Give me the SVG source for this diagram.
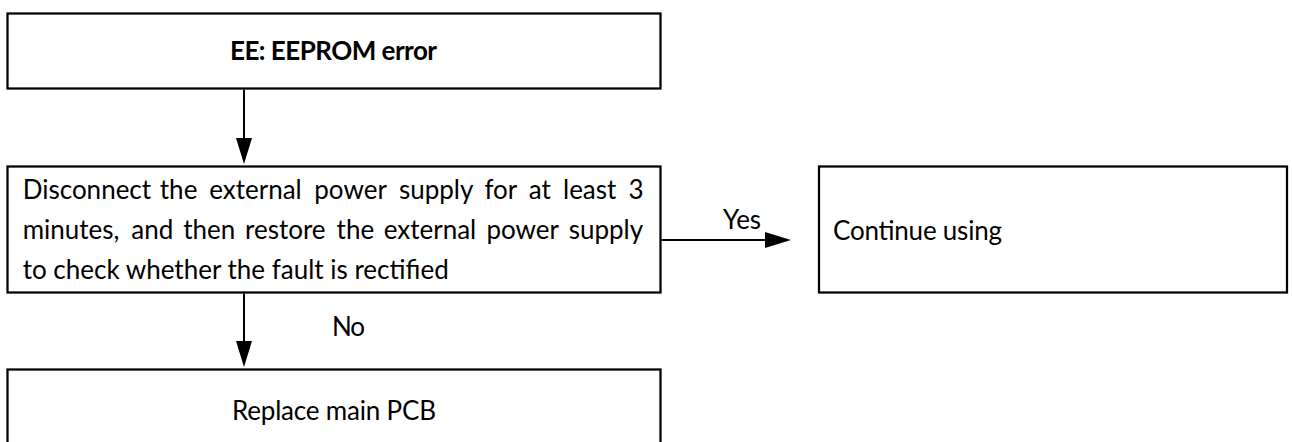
<svg xmlns="http://www.w3.org/2000/svg" width="1292" height="442" viewBox="0 0 1292 442">
  <style>
    .box { fill: #ffffff; stroke: #000000; stroke-width: 2.25; }
    .conn { fill: none; stroke: #000000; stroke-width: 2; }
    .txt { font-family: Lato, "Liberation Sans", sans-serif; font-size: 26px; fill: #000000; }
    .bold { font-weight: bold; }
  </style>
  <defs>
    <marker id="arrow" markerUnits="userSpaceOnUse" markerWidth="26" markerHeight="16" refX="16" refY="8" orient="auto" viewBox="0 0 26 16">
      <path d="M0,0 L26,8 L0,16 Z" fill="#000000"/>
    </marker>
  </defs>
  <rect x="0" y="0" width="1292" height="442" fill="#ffffff"/>

  <g id="connectors">
    <line class="conn" x1="244" y1="89.5" x2="244" y2="154" marker-end="url(#arrow)"/>
    <line class="conn" x1="661.5" y1="240" x2="781" y2="240" marker-end="url(#arrow)"/>
    <text class="txt" x="723" y="229" textLength="38">Yes</text>
    <line class="conn" x1="244" y1="293.5" x2="244" y2="357" marker-end="url(#arrow)"/>
    <text class="txt" x="332" y="336" textLength="33">No</text>
  </g>

  <g id="node-ee">
    <rect class="box" x="7.5" y="13.5" width="653" height="75"/>
    <text class="txt bold" x="230" y="60" textLength="207">EE: EEPROM error</text>
  </g>

  <g id="node-disconnect">
    <rect class="box" x="7.5" y="166.5" width="653" height="126"/>
    <text class="txt" y="199"><tspan x="22.7">Disconnect</tspan> <tspan x="159.8">the</tspan> <tspan x="209.2">external</tspan> <tspan x="314.3">power</tspan> <tspan x="398.9">supply</tspan> <tspan x="484.4">for</tspan> <tspan x="528.8">at</tspan> <tspan x="563">least</tspan> <tspan x="628.5">3</tspan></text>
    <text class="txt" y="239"><tspan x="22.7">minutes,</tspan> <tspan x="131.3">and</tspan> <tspan x="183.2">then</tspan> <tspan x="245">restore</tspan> <tspan x="336.6">the</tspan> <tspan x="383.7">external</tspan> <tspan x="486.4">power</tspan> <tspan x="568.7">supply</tspan></text>
    <text class="txt" x="22.7" y="279" textLength="426">to check whether the fault is rectified</text>
  </g>

  <g id="node-continue">
    <rect class="box" x="819" y="166.5" width="468" height="126"/>
    <text class="txt" x="833" y="240" textLength="169">Continue using</text>
  </g>

  <g id="node-replace">
    <rect class="box" x="7.5" y="369.5" width="653" height="100"/>
    <text class="txt" x="232" y="420" textLength="204">Replace main PCB</text>
  </g>
</svg>
